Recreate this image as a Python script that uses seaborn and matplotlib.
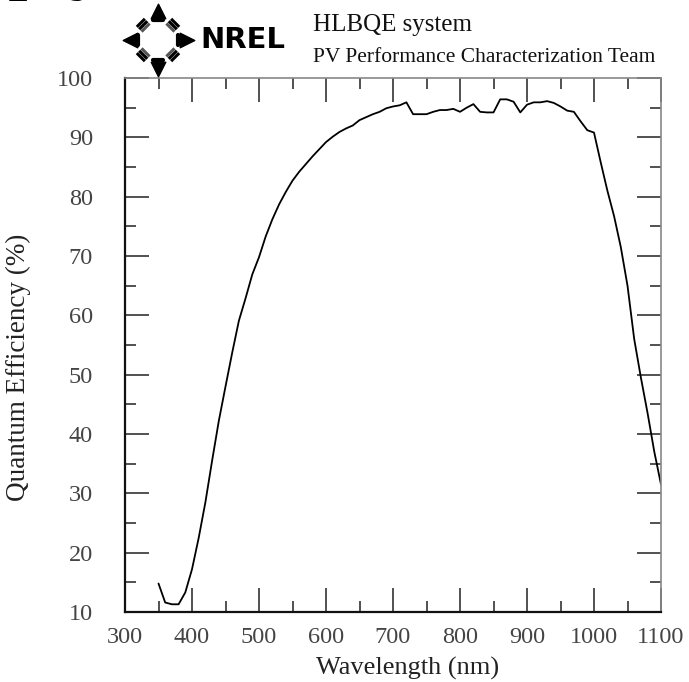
import numpy as np
import pandas as pd
import seaborn as sns
import matplotlib
matplotlib.use("Agg")
import matplotlib.pyplot as plt

# ---- data ----
wavelength = [350, 360, 370, 380, 390, 400, 410, 420, 430, 440, 450, 460, 470, 480, 490,
              500, 510, 520, 530, 540, 550, 560, 570, 580, 590, 600, 610, 620, 630, 640,
              650, 660, 670, 680, 690, 700, 710, 720, 730, 740, 750, 760, 770, 780, 790,
              800, 810, 820, 830, 840, 850, 860, 870, 880, 890, 900, 910, 920, 930, 940,
              950, 960, 970, 980, 990, 1000, 1010, 1020, 1030, 1040, 1050, 1060, 1070,
              1080, 1090, 1100]
qe = [14.8, 11.6, 11.3, 11.3, 13.3, 17.2, 22.5, 28.5, 35.5, 42.2, 48.0, 53.7, 59.1, 62.9, 66.9,
      69.8, 73.3, 76.2, 78.7, 80.8, 82.7, 84.2, 85.5, 86.8, 88.0, 89.2, 90.1, 90.9, 91.5, 92.0,
      92.9, 93.4, 93.9, 94.3, 94.9, 95.2, 95.4, 95.9, 93.9, 93.9, 93.9, 94.3, 94.6, 94.6, 94.8,
      94.3, 95.0, 95.6, 94.3, 94.2, 94.2, 96.4, 96.4, 96.0, 94.2, 95.5, 95.9, 95.9, 96.1, 95.8,
      95.2, 94.5, 94.3, 92.7, 91.2, 90.8, 85.8, 81.0, 76.7, 71.5, 65.0, 56.0, 49.5,
      43.5, 37.0, 31.5]
x_ticks = [300, 400, 500, 600, 700, 800, 900, 1000, 1100]
y_ticks = [10, 20, 30, 40, 50, 60, 70, 80, 90, 100]
x_label = "Wavelength (nm)"
y_label = "Quantum Efficiency (%)"
title1 = "HLBQE system"
title2 = "PV Performance Characterization Team"

df = pd.DataFrame({"wavelength": wavelength, "qe": qe})

sns.set_style("ticks")
plt.rcParams["font.family"] = ["Liberation Serif", "DejaVu Serif"]

W, H = 689, 682
fig = plt.figure(figsize=(W / 100, H / 100), dpi=100)
ax = fig.add_axes([125 / W, 1 - 612 / H, 536 / W, 534 / H])

sns.lineplot(data=df, x="wavelength", y="qe", color="black", linewidth=1.3, ax=ax)

ax.set_xlim(300, 1100)
ax.set_ylim(10, 100)
ax.set_xticks(x_ticks)
ax.set_yticks(y_ticks)
ax.set_xticks(np.arange(350, 1100, 100), minor=True)
ax.set_yticks(np.arange(15, 100, 10), minor=True)
ax.tick_params(axis="both", which="major", direction="in", length=17, width=1.1,
               top=True, right=True, labelsize=17.5, labelcolor="#444444", color="#222222")
ax.tick_params(axis="both", which="minor", direction="in", length=8, width=1.1,
               top=True, right=True, color="#222222")
ax.tick_params(axis="x", which="major", pad=11)
ax.tick_params(axis="y", which="major", pad=23)

for s in ["left", "bottom"]:
    ax.spines[s].set_color("#111111")
    ax.spines[s].set_linewidth(1.6)
for s in ["top", "right"]:
    ax.spines[s].set_color("#888888")
    ax.spines[s].set_linewidth(1.2)

ax.set_xlabel(x_label, fontsize=19, color="#222222")
ax.set_ylabel(y_label, fontsize=19.5, color="#222222")
ax.xaxis.set_label_coords(0.528, -0.085)
ax.yaxis.set_label_coords(-0.175, 0.459)

# header text
fig.text(313 / W, 1 - 31 / H, title1, fontsize=18, color="#111111", va="baseline", ha="left")
fig.text(313 / W, 1 - 62 / H, title2, fontsize=15.5, color="#111111", va="baseline", ha="left")

# cut-off leftover text at very top
fig.text(8 / W, 1 + 16 / H, "ply", fontsize=58, color="black", va="baseline", ha="left")

# NREL logo
lax = fig.add_axes([120 / W, 1 - 78 / H, 76 / W, 76 / H])
lax.set_xlim(-40, 40)
lax.set_ylim(-40, 40)
lax.axis("off")
r = 24
lax.scatter([0], [r + 6], marker="^", s=110, color="black")
lax.scatter([0], [-r - 6], marker="v", s=110, color="black")
lax.scatter([-r - 6], [0], marker="<", s=110, color="black")
lax.scatter([r + 6], [0], marker=">", s=110, color="black")
for (sx, sy) in [(0, 1), (0, -1), (1, 0), (-1, 0)]:
    cx, cy = sx * (r - 3), sy * (r - 3)
    if sx == 0:
        lax.plot([cx - 5, cx + 5], [cy, cy], color="black", lw=3)
    else:
        lax.plot([cx, cx], [cy - 5, cy + 5], color="black", lw=3)
for ang in [45, 135, 225, 315]:
    a = np.deg2rad(ang)
    for k, off in enumerate([-3.5, 0, 3.5]):
        rr = r - 2 + off
        cx, cy = rr * np.cos(a), rr * np.sin(a)
        tx, ty = -np.sin(a), np.cos(a)
        L = 6
        lax.plot([cx - tx * L, cx + tx * L], [cy - ty * L, cy + ty * L],
                 color="black" if k != 0 else "#555555", lw=2.2, solid_capstyle="butt")
fig.text(200 / W, 1 - 40 / H, "NREL", fontsize=21, fontweight="heavy",
         family="DejaVu Sans", color="black", va="center", ha="left")

fig.savefig("out.png", dpi=100)
